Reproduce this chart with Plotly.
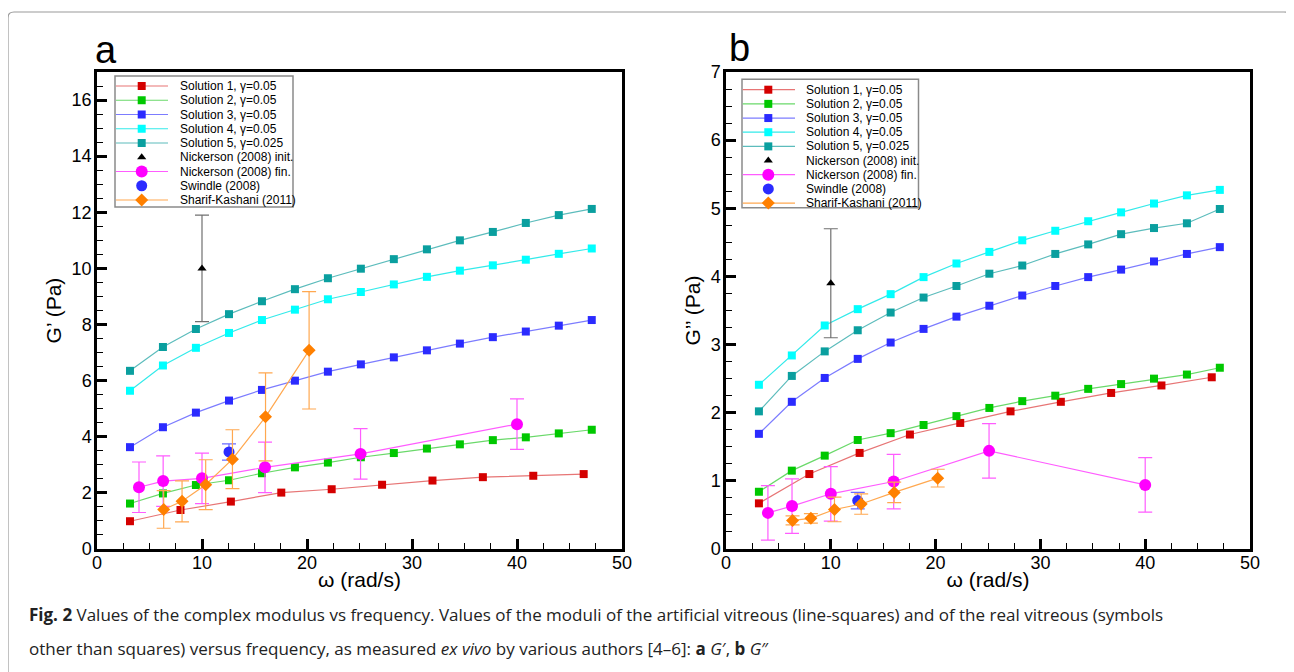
import plotly.graph_objects as go

# ---------------- data ----------------
omega_sol = [3.14, 6.28, 9.42, 12.57, 15.71, 18.85, 21.99, 25.13, 28.27, 31.42,
             34.56, 37.70, 40.84, 43.98, 47.12]
omega_sol1 = [3.14, 7.95, 12.75, 17.55, 22.35, 27.15, 31.95, 36.75, 41.55, 46.35]

# panel a : G'
sol1_a = [0.99, 1.39, 1.69, 2.01, 2.13, 2.29, 2.44, 2.56, 2.61, 2.67]
sol2_a = [1.62, 1.98, 2.28, 2.45, 2.70, 2.91, 3.08, 3.27, 3.42, 3.58, 3.73, 3.88, 3.98, 4.12, 4.25]
sol3_a = [3.63, 4.34, 4.86, 5.29, 5.67, 6.00, 6.32, 6.58, 6.83, 7.08, 7.32, 7.55, 7.75, 7.96, 8.16]
sol4_a = [5.64, 6.54, 7.17, 7.70, 8.16, 8.53, 8.90, 9.16, 9.43, 9.70, 9.92, 10.11, 10.31, 10.52, 10.71]
sol5_a = [6.35, 7.20, 7.84, 8.37, 8.83, 9.26, 9.65, 9.99, 10.33, 10.68, 11.00, 11.30, 11.62, 11.90, 12.12]

# panel b : G''
sol1_b = [0.67, 1.10, 1.41, 1.68, 1.85, 2.02, 2.16, 2.29, 2.40, 2.52]
sol2_b = [0.84, 1.15, 1.37, 1.60, 1.70, 1.82, 1.95, 2.07, 2.17, 2.25, 2.35, 2.42, 2.50, 2.56, 2.66]
sol3_b = [1.69, 2.16, 2.51, 2.79, 3.03, 3.23, 3.41, 3.57, 3.72, 3.86, 3.99, 4.10, 4.22, 4.33, 4.43]
sol4_b = [2.41, 2.84, 3.28, 3.52, 3.74, 3.99, 4.19, 4.36, 4.53, 4.67, 4.81, 4.94, 5.07, 5.19, 5.27]
sol5_b = [2.02, 2.54, 2.90, 3.21, 3.47, 3.69, 3.86, 4.04, 4.16, 4.33, 4.47, 4.62, 4.71, 4.78, 4.99]

# Nickerson (2008) init.
nick_init_x = [10.0]
nick_init_a = [10.0]
nick_init_a_err = [1.9]
nick_init_b = [3.9]
nick_init_b_err = [0.8]

# Nickerson (2008) fin.
nick_fin_x = [4.0, 6.3, 10.0, 16.0, 25.1, 40.0]
nick_fin_a = [2.20, 2.42, 2.52, 2.91, 3.39, 4.45]
nick_fin_a_err = [0.9, 0.9, 0.9, 0.9, 0.9, 0.9]
nick_fin_b = [0.53, 0.63, 0.81, 0.99, 1.44, 0.94]
nick_fin_b_err = [0.4, 0.4, 0.4, 0.4, 0.4, 0.4]

# Swindle (2008)
swindle_x = [12.57]
swindle_a = [3.46]
swindle_a_err = [0.29]
swindle_b = [0.71]
swindle_b_err = [0.12]

# Sharif-Kashani (2011)
sharif_x = [6.35, 8.1, 10.35, 12.9, 16.05, 20.2]
sharif_a = [1.41, 1.70, 2.29, 3.20, 4.71, 7.08]
sharif_a_err = [0.67, 0.73, 0.89, 1.05, 1.57, 2.09]
sharif_b = [0.42, 0.45, 0.58, 0.66, 0.83, 1.04]
sharif_b_err = [0.065, 0.07, 0.18, 0.15, 0.15, 0.13]

series_names = ["Solution 1, γ=0.05", "Solution 2, γ=0.05", "Solution 3, γ=0.05",
                "Solution 4, γ=0.05", "Solution 5, γ=0.025", "Nickerson (2008) init.",
                "Nickerson (2008) fin.", "Swindle (2008)", "Sharif-Kashani (2011)"]

x_ticks = [0, 10, 20, 30, 40, 50]

# ---------------- styles ----------------
FONT = "Liberation Sans"
STYLE = [
    dict(symbol="square", size=8, mcolor="#d40000", lcolor="#e77575"),
    dict(symbol="square", size=8, mcolor="#00c800", lcolor="#6ad96a"),
    dict(symbol="square", size=8, mcolor="#2b2bff", lcolor="#7c7cff"),
    dict(symbol="square", size=8, mcolor="#00ffff", lcolor="#33eaea"),
    dict(symbol="square", size=8, mcolor="#0a9f9f", lcolor="#5cbcbc"),
    dict(symbol="triangle-up", size=8, mcolor="#000000", lcolor=None, ecolor="#707070"),
    dict(symbol="circle", size=12, mcolor="#ff00ff", lcolor="#ff5cff"),
    dict(symbol="circle", size=11, mcolor="#2b2bff", lcolor=None),
    dict(symbol="diamond", size=10, mcolor="#ff8000", lcolor="#ffa850"),
]

# page geometry (page pixels); the html body has an 8px margin
OFF = 8
PAGE_W, PAGE_H = 1294, 672
W, H = PAGE_W - OFF, PAGE_H - OFF
PLOT_L, PLOT_R, PLOT_T, PLOT_B = 97, 1250, 72, 549
ML, MT = PLOT_L - OFF, PLOT_T - OFF
MR, MB = W - (PLOT_R - OFF), H - (PLOT_B - OFF)
PW = PLOT_R - PLOT_L
PH = PLOT_B - PLOT_T


def pxx(x):
    return (x - PLOT_L) / PW


def pxy(y):
    return 1 - (y - PLOT_T) / PH


A_RIGHT = 622
B_LEFT = 726
dom_a = [0, pxx(A_RIGHT)]
dom_b = [pxx(B_LEFT), 1]

fig = go.Figure()

panels = [
    dict(xa="x", ya="y",
         sol=[(omega_sol1, sol1_a), (omega_sol, sol2_a), (omega_sol, sol3_a), (omega_sol, sol4_a), (omega_sol, sol5_a)],
         ni=(nick_init_a, nick_init_a_err), nf=(nick_fin_a, nick_fin_a_err),
         sw=(swindle_a, swindle_a_err), sk=(sharif_a, sharif_a_err)),
    dict(xa="x2", ya="y2",
         sol=[(omega_sol1, sol1_b), (omega_sol, sol2_b), (omega_sol, sol3_b), (omega_sol, sol4_b), (omega_sol, sol5_b)],
         ni=(nick_init_b, nick_init_b_err), nf=(nick_fin_b, nick_fin_b_err),
         sw=(swindle_b, swindle_b_err), sk=(sharif_b, sharif_b_err)),
]

for p in panels:
    for i, (xs, ys) in enumerate(p["sol"]):
        st = STYLE[i]
        fig.add_trace(go.Scatter(x=xs, y=ys, mode="lines+markers", name=series_names[i],
                                 xaxis=p["xa"], yaxis=p["ya"], showlegend=False,
                                 line=dict(color=st["lcolor"], width=1.2),
                                 marker=dict(symbol=st["symbol"], size=st["size"], color=st["mcolor"],
                                             line=dict(width=0))))
    st = STYLE[5]
    fig.add_trace(go.Scatter(x=nick_init_x, y=p["ni"][0], mode="markers", name=series_names[5],
                             xaxis=p["xa"], yaxis=p["ya"], showlegend=False,
                             error_y=dict(type="data", array=p["ni"][1], color=st["ecolor"], thickness=1.2, width=7),
                             marker=dict(symbol=st["symbol"], size=st["size"], color=st["mcolor"])))
    st = STYLE[6]
    fig.add_trace(go.Scatter(x=nick_fin_x, y=p["nf"][0], mode="lines+markers", name=series_names[6],
                             xaxis=p["xa"], yaxis=p["ya"], showlegend=False,
                             line=dict(color=st["lcolor"], width=1.2),
                             error_y=dict(type="data", array=p["nf"][1], color=st["lcolor"], thickness=1.2, width=7),
                             marker=dict(symbol=st["symbol"], size=st["size"], color=st["mcolor"])))
    st = STYLE[7]
    fig.add_trace(go.Scatter(x=swindle_x, y=p["sw"][0], mode="markers", name=series_names[7],
                             xaxis=p["xa"], yaxis=p["ya"], showlegend=False,
                             error_y=dict(type="data", array=p["sw"][1], color="#6a6aff", thickness=1.2, width=7),
                             marker=dict(symbol=st["symbol"], size=st["size"], color=st["mcolor"])))
    st = STYLE[8]
    fig.add_trace(go.Scatter(x=sharif_x, y=p["sk"][0], mode="lines+markers", name=series_names[8],
                             xaxis=p["xa"], yaxis=p["ya"], showlegend=False,
                             line=dict(color=st["lcolor"], width=1.2),
                             error_y=dict(type="data", array=p["sk"][1], color=st["lcolor"], thickness=1.2, width=7),
                             marker=dict(symbol=st["symbol"], size=st["size"], color=st["mcolor"])))

# ---------------- hand-made legends on pixel overlay axes ----------------
legend_geo = [
    dict(xa="x3", ya="y3", box=(18, 4, 196, 135), row0=14.0, step=14.25, line=(19, 71), mk=44.7, tx=80.5),
    dict(xa="x4", ya="y4", box=(16, 7.3, 192.5, 135.7), row0=17.7, step=14.17, line=(16.7, 69), mk=42.3, tx=78),
]
for g in legend_geo:
    x0, y0, x1, y1 = g["box"]
    fig.add_shape(type="rect", xref=g["xa"], yref=g["ya"], x0=x0, y0=y0, x1=x1, y1=y1,
                  line=dict(color="#8a8a8a", width=1.5), fillcolor="white", layer="below")
    for i, name in enumerate(series_names):
        st = STYLE[i]
        yy = g["row0"] + i * g["step"]
        if st["lcolor"]:
            fig.add_trace(go.Scatter(x=[g["line"][0], g["line"][1]], y=[yy, yy], mode="lines",
                                     xaxis=g["xa"], yaxis=g["ya"], showlegend=False, hoverinfo="skip",
                                     line=dict(color=st["lcolor"], width=1.2)))
        fig.add_trace(go.Scatter(x=[g["mk"]], y=[yy], mode="markers",
                                 xaxis=g["xa"], yaxis=g["ya"], showlegend=False, hoverinfo="skip",
                                 marker=dict(symbol=st["symbol"], size=st["size"], color=st["mcolor"])))
        fig.add_annotation(x=g["tx"], y=yy, xref=g["xa"], yref=g["ya"], text=name, showarrow=False,
                           xanchor="left", yanchor="middle",
                           font=dict(family=FONT, size=12, color="black"))

# ---------------- axes ----------------
common = dict(showline=True, linecolor="black", linewidth=2.5, mirror=True,
              ticks="inside", ticklen=10, tickwidth=2.5, tickcolor="black",
              showgrid=False, zeroline=False,
              tickfont=dict(family=FONT, size=18, color="black"))
xcommon = dict(common, range=[0, 50], tickvals=x_ticks, ticktext=[str(t) for t in x_ticks],
               minor=dict(ticks="inside", ticklen=6, tickwidth=1, tickcolor="black", dtick=2.5, tick0=0),
               title=dict(text="ω (rad/s)", font=dict(family=FONT, size=21, color="black"), standoff=0),
               ticklabelstandoff=-4)

fig.update_layout(
    width=W, height=H, template="none",
    margin=dict(l=ML, r=MR, t=MT, b=MB, autoexpand=False),
    paper_bgcolor="white", plot_bgcolor="rgba(0,0,0,0)",
    showlegend=False,
    xaxis=dict(xcommon, domain=dom_a, anchor="y"),
    xaxis2=dict(xcommon, domain=dom_b, anchor="y2"),
    yaxis=dict(common, domain=[0, 1], anchor="x", range=[0, 17], dtick=2, tick0=0,
               minor=dict(ticks="inside", ticklen=6, tickwidth=1, tickcolor="black", dtick=0.5, tick0=0),
               title=dict(text="G’ (Pa)", font=dict(family=FONT, size=21, color="black"), standoff=5),
               ticklabelstandoff=-1),
    yaxis2=dict(common, domain=[0, 1], anchor="x2", range=[0, 7], dtick=1, tick0=0,
                minor=dict(ticks="inside", ticklen=6, tickwidth=1, tickcolor="black", dtick=0.25, tick0=0),
                title=dict(text="G’’ (Pa)", font=dict(family=FONT, size=21, color="black"), standoff=5),
                ticklabelstandoff=-1),
    xaxis3=dict(domain=dom_a, range=[0, A_RIGHT - PLOT_L], visible=False, anchor="y3", fixedrange=True),
    yaxis3=dict(domain=[0, 1], range=[PH, 0], visible=False, anchor="x3", fixedrange=True),
    xaxis4=dict(domain=dom_b, range=[0, PLOT_R - B_LEFT], visible=False, anchor="y4", fixedrange=True),
    yaxis4=dict(domain=[0, 1], range=[PH, 0], visible=False, anchor="x4", fixedrange=True),
)

# panel letters
fig.add_annotation(x=pxx(106), y=pxy(50), xref="paper", yref="paper", text="a", showarrow=False,
                   xanchor="center", yanchor="middle", font=dict(family=FONT, size=38, color="black"))
fig.add_annotation(x=pxx(739), y=pxy(48), xref="paper", yref="paper", text="b", showarrow=False,
                   xanchor="center", yanchor="middle", font=dict(family=FONT, size=38, color="black"))

# caption
CAP = "Open Sans"
fig.add_annotation(x=pxx(27), y=pxy(614), xref="paper", yref="paper", showarrow=False,
                   xanchor="left", yanchor="middle", align="left",
                   text="<b>Fig. 2</b> Values of the complex modulus vs frequency. Values of the moduli of the artificial "
                        "vitreous (line-squares) and of the real vitreous (symbols",
                   font=dict(family=CAP, size=17, color="#222222"))
fig.add_annotation(x=pxx(27), y=pxy(648), xref="paper", yref="paper", showarrow=False,
                   xanchor="left", yanchor="middle", align="left",
                   text="other than squares) versus frequency, as measured <i>ex vivo</i> by various authors [4–6]: "
                        "<b>a</b> <i>G</i>′, <b>b</b> <i>G</i>″",
                   font=dict(family=CAP, size=17, color="#222222"))

# outer rounded frame
bx0, by0, bx1, by1, r = 8, 12, 1290, 700, 6
path = (f"M {pxx(bx0 + r)},{pxy(by0)} L {pxx(bx1 - r)},{pxy(by0)} "
        f"Q {pxx(bx1)},{pxy(by0)} {pxx(bx1)},{pxy(by0 + r)} L {pxx(bx1)},{pxy(by1)} "
        f"L {pxx(bx0)},{pxy(by1)} L {pxx(bx0)},{pxy(by0 + r)} "
        f"Q {pxx(bx0)},{pxy(by0)} {pxx(bx0 + r)},{pxy(by0)} Z")
fig.add_shape(type="path", path=path, xref="paper", yref="paper",
              line=dict(color="#9a9a9a", width=1.2), layer="below")

fig.write_html("out.html")
